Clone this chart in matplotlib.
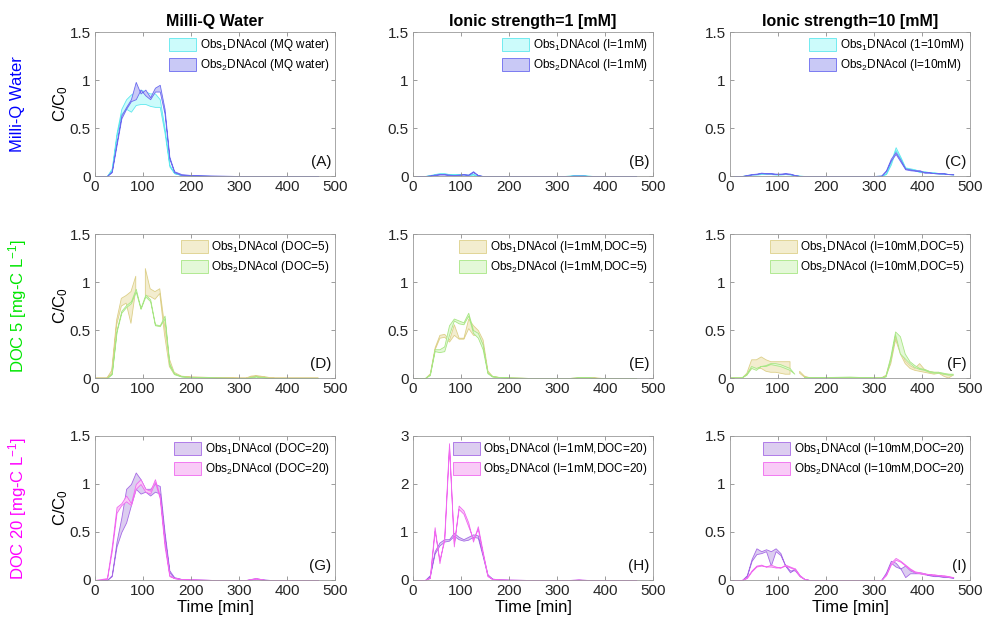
import numpy as np
import matplotlib
matplotlib.use('Agg')
import matplotlib.pyplot as plt

plt.rcParams['font.family'] = ['Liberation Sans', 'DejaVu Sans']
plt.rcParams['mathtext.fontset'] = 'custom'
plt.rcParams['mathtext.rm'] = 'Liberation Sans'
plt.rcParams['mathtext.it'] = 'Liberation Sans:italic'

nan = np.nan

# sampling times [min]
t = [0, 25, 35, 45, 55, 65, 75, 85, 95, 105, 115, 125, 135, 145, 155, 165, 180, 200,
     250, 300, 315, 325, 335, 345, 355, 365, 375, 385, 395, 405, 415, 425, 435, 445, 455, 465]

# (A) Milli-Q water
A1_hi = [0, 0, 0.08, 0.45, 0.70, 0.80, 0.85, 0.88, 0.90, 0.88, 0.86, 0.86, 0.80, 0.50, 0.12, 0.03, 0.01, 0.005,
         0, 0, 0, 0, 0, 0, 0, 0, 0, 0, 0, 0, 0, 0, 0, 0, 0, 0]
A1_lo = [0, 0, 0.06, 0.42, 0.65, 0.70, 0.67, 0.74, 0.75, 0.75, 0.73, 0.72, 0.72, 0.45, 0.10, 0.03, 0.01, 0.005,
         0, 0, 0, 0, 0, 0, 0, 0, 0, 0, 0, 0, 0, 0, 0, 0, 0, 0]
A2_hi = [0, 0, 0.05, 0.35, 0.63, 0.72, 0.80, 0.98, 0.86, 0.90, 0.82, 0.92, 0.95, 0.70, 0.20, 0.05, 0.02, 0.01,
         0.005, 0, 0, 0, 0, 0, 0, 0, 0, 0, 0, 0, 0, 0, 0, 0, 0, 0]
A2_lo = [0, 0, 0.04, 0.32, 0.60, 0.70, 0.78, 0.80, 0.90, 0.84, 0.80, 0.88, 0.88, 0.65, 0.18, 0.04, 0.01, 0.005,
         0, 0, 0, 0, 0, 0, 0, 0, 0, 0, 0, 0, 0, 0, 0, 0, 0, 0]

# (B) I = 1 mM
B1_hi = [0, 0, 0.01, 0.02, 0.03, 0.03, 0.02, 0.02, 0.02, 0.02, 0.015, 0.02, 0.005, 0, 0, 0, 0, 0,
         0, 0, 0, 0.005, 0.01, 0.01, 0.01, 0.005, 0, 0, 0, 0, 0, 0, 0, 0, 0, 0]
B1_lo = [0, 0, 0.005, 0.015, 0.02, 0.02, 0.015, 0.015, 0.015, 0.015, 0.01, 0.015, 0.005, 0, 0, 0, 0, 0,
         0, 0, 0, 0, 0.005, 0.005, 0.005, 0, 0, 0, 0, 0, 0, 0, 0, 0, 0, 0]
B2_hi = [0, 0, 0.005, 0.015, 0.02, 0.02, 0.015, 0.01, 0.015, 0.02, 0.015, 0.05, 0.01, 0, 0, 0, 0, 0,
         0, 0, 0, 0, 0.005, 0.005, 0.005, 0, 0, 0, 0, 0, 0, 0, 0, 0, 0, 0]
B2_lo = [0, 0, 0.003, 0.01, 0.015, 0.015, 0.01, 0.008, 0.01, 0.015, 0.01, 0.04, 0.008, 0, 0, 0, 0, 0,
         0, 0, 0, 0, 0, 0, 0, 0, 0, 0, 0, 0, 0, 0, 0, 0, 0, 0]

# (C) I = 10 mM
C1_hi = [0, 0, 0.01, 0.02, 0.02, 0.03, 0.03, 0.03, 0.02, 0.02, 0.02, 0.02, 0.01, 0.005, 0, 0, 0, 0,
         0, 0, 0.005, 0.03, 0.15, 0.30, 0.20, 0.09, 0.08, 0.07, 0.05, 0.05, 0.04, 0.04, 0.03, 0.03, 0.02, 0.02]
C1_lo = [0, 0, 0.005, 0.015, 0.015, 0.02, 0.02, 0.02, 0.015, 0.015, 0.02, 0.015, 0.01, 0, 0, 0, 0, 0,
         0, 0, 0, 0.02, 0.12, 0.27, 0.18, 0.08, 0.07, 0.06, 0.04, 0.04, 0.035, 0.03, 0.025, 0.02, 0.02, 0.015]
C2_hi = [0, 0, 0.01, 0.02, 0.025, 0.035, 0.03, 0.03, 0.025, 0.025, 0.03, 0.025, 0.01, 0, 0, 0, 0, 0,
         0, 0, 0.005, 0.06, 0.18, 0.25, 0.17, 0.08, 0.07, 0.06, 0.06, 0.04, 0.04, 0.03, 0.03, 0.03, 0.02, 0.02]
C2_lo = [0, 0, 0.005, 0.015, 0.02, 0.03, 0.025, 0.025, 0.02, 0.02, 0.025, 0.02, 0.008, 0, 0, 0, 0, 0,
         0, 0, 0, 0.05, 0.16, 0.23, 0.15, 0.07, 0.06, 0.055, 0.05, 0.035, 0.035, 0.03, 0.025, 0.025, 0.02, 0.015]

# (D) DOC = 5
D1_hi = [0, 0, 0.08, 0.60, 0.83, 0.86, 0.90, 1.06, nan, 1.14, 0.93, 0.90, 0.93, 0.55, 0.20, 0.06, 0.02, 0.01,
         0.005, 0, 0, 0.02, 0.025, 0.02, 0.01, 0.005, 0, 0, 0, 0, 0, 0, 0, 0, 0, 0]
D1_lo = [0, 0, 0.05, 0.55, 0.75, 0.78, 0.57, 0.92, nan, 0.86, 0.85, 0.82, 0.88, 0.45, 0.12, 0.04, 0.015, 0.01,
         0.005, 0, 0, 0.01, 0.02, 0.015, 0.01, 0.005, 0, 0, 0, 0, 0, 0, 0, 0, 0, 0]
D2_hi = [0, 0, 0.05, 0.50, 0.70, 0.76, 0.80, 0.93, 0.73, 0.87, 0.82, 0.56, 0.55, 0.65, 0.15, 0.05, 0.02, 0.01,
         0.005, 0, 0, 0.01, 0.02, 0.01, 0.005, 0, 0, 0, 0, 0, 0, 0, 0, 0, 0, 0]
D2_lo = [0, 0, 0.04, 0.48, 0.68, 0.74, 0.78, 0.90, 0.72, 0.85, 0.80, 0.55, 0.54, 0.62, 0.13, 0.04, 0.015, 0.01,
         0.005, 0, 0, 0.005, 0.015, 0.01, 0.005, 0, 0, 0, 0, 0, 0, 0, 0, 0, 0, 0]

# (E) I = 1 mM, DOC = 5
E1_hi = [0, 0, 0.05, 0.32, 0.45, 0.46, 0.40, 0.56, 0.42, 0.42, 0.62, 0.55, 0.50, 0.40, 0.08, 0.02, 0.01, 0.005,
         0, 0, 0, 0, 0.005, 0.01, 0.01, 0.01, 0.01, 0.005, 0, 0, 0, 0, 0, 0, 0, 0]
E1_lo = [0, 0, 0.04, 0.30, 0.42, 0.43, 0.38, 0.45, 0.41, 0.41, 0.52, 0.45, 0.45, 0.35, 0.06, 0.02, 0.01, 0.005,
         0, 0, 0, 0, 0, 0.005, 0.005, 0.005, 0.005, 0, 0, 0, 0, 0, 0, 0, 0, 0]
E2_hi = [0, 0, 0.04, 0.30, 0.30, 0.33, 0.55, 0.62, 0.60, 0.58, 0.68, 0.50, 0.47, 0.35, 0.06, 0.02, 0.01, 0.005,
         0, 0, 0, 0, 0.005, 0.01, 0.01, 0.01, 0.005, 0, 0, 0, 0, 0, 0, 0, 0, 0]
E2_lo = [0, 0, 0.03, 0.28, 0.27, 0.28, 0.45, 0.60, 0.57, 0.56, 0.65, 0.47, 0.42, 0.30, 0.05, 0.015, 0.01, 0.005,
         0, 0, 0, 0, 0, 0.005, 0.005, 0.005, 0, 0, 0, 0, 0, 0, 0, 0, 0, 0]

# (F) I = 10 mM, DOC = 5
F1_hi = [0, 0, 0.05, 0.19, 0.19, 0.22, 0.19, 0.17, 0.17, 0.17, 0.17, 0.17, nan, 0.07, 0.02, 0.005, 0, 0,
         0, 0, 0, 0.03, 0.20, 0.43, 0.30, 0.18, 0.13, 0.10, 0.15, 0.09, 0.07, 0.06, 0.06, 0.04, 0.04, 0.03]
F1_lo = [0, 0, 0.03, 0.10, 0.10, 0.10, 0.07, 0.06, 0.06, 0.05, 0.04, 0.04, nan, 0.05, 0.01, 0, 0, 0,
         0, 0, 0, 0.02, 0.15, 0.40, 0.25, 0.15, 0.10, 0.08, 0.07, 0.06, 0.05, 0.04, 0.05, 0.02, 0.0, 0.03]
F2_hi = [0, 0, 0.04, 0.12, 0.10, 0.12, 0.13, 0.15, 0.15, 0.14, 0.12, 0.10, 0.04, nan, 0.005, 0.005, 0.005, 0.005,
         0.01, 0, 0, 0.02, 0.22, 0.48, 0.43, 0.25, 0.17, 0.13, 0.10, 0.09, 0.07, 0.06, 0.06, 0.05, 0.04, 0.04]
F2_lo = [0, 0, 0.03, 0.10, 0.08, 0.12, 0.12, 0.14, 0.13, 0.12, 0.10, 0.08, 0.04, nan, 0, 0, 0, 0,
         0.005, 0, 0, 0.01, 0.18, 0.45, 0.25, 0.20, 0.15, 0.11, 0.09, 0.08, 0.06, 0.05, 0.05, 0.04, 0.03, 0.03]

# (G) DOC = 20
G1_hi = [0, 0, 0.05, 0.40, 0.65, 0.95, 1.00, 1.12, 1.05, 0.95, 0.95, 1.00, 0.98, 0.50, 0.10, 0.03, 0.01, 0.005,
         0, 0, 0, 0.01, 0.02, 0.01, 0.005, 0, 0, 0, 0, 0, 0, 0, 0, 0, 0, 0]
G1_lo = [0, 0, 0.04, 0.35, 0.50, 0.60, 0.78, 0.95, 0.90, 0.92, 0.88, 0.92, 0.90, 0.45, 0.08, 0.02, 0.01, 0.005,
         0, 0, 0, 0.005, 0.015, 0.005, 0, 0, 0, 0, 0, 0, 0, 0, 0, 0, 0, 0]
G2_hi = [0, 0.02, 0.35, 0.76, 0.80, 0.88, 0.80, 1.00, 1.05, 0.95, 0.93, 1.05, 0.88, 0.40, 0.05, 0.02, 0.01, 0.005,
         0, 0, 0, 0.01, 0.02, 0.01, 0, 0, 0, 0, 0, 0, 0, 0, 0, 0, 0, 0]
G2_lo = [0, 0.01, 0.30, 0.70, 0.78, 0.82, 0.78, 0.95, 1.00, 0.92, 0.90, 1.02, 0.85, 0.35, 0.04, 0.02, 0.01, 0.005,
         0, 0, 0, 0.005, 0.015, 0.005, 0, 0, 0, 0, 0, 0, 0, 0, 0, 0, 0, 0]

# (H) I = 1 mM, DOC = 20
H1_hi = [0, 0, 0.10, 0.60, 0.78, 0.85, 0.85, 0.98, 0.90, 0.85, 0.90, 0.95, 0.93, 0.55, 0.12, 0.03, 0.01, 0.005,
         0, 0, 0, 0, 0.005, 0.01, 0.005, 0, 0, 0, 0, 0, 0, 0, 0, 0, 0, 0]
H1_lo = [0, 0, 0.08, 0.55, 0.72, 0.80, 0.82, 0.92, 0.85, 0.82, 0.84, 0.90, 0.88, 0.50, 0.10, 0.02, 0.01, 0.005,
         0, 0, 0, 0, 0, 0.005, 0, 0, 0, 0, 0, 0, 0, 0, 0, 0, 0, 0]
H2_hi = [0, 0, 0.05, 1.10, 0.35, 0.90, 2.85, 0.70, 1.55, 1.45, 1.20, 0.80, 1.12, 0.60, 0.10, 0.02, 0.01, 0.005,
         0, 0, 0, 0, 0.005, 0.01, 0.005, 0, 0, 0, 0, 0, 0, 0, 0, 0, 0, 0]
H2_lo = [0, 0, 0.04, 1.02, 0.42, 0.82, 2.78, 0.76, 1.48, 1.38, 1.12, 0.86, 1.06, 0.55, 0.08, 0.02, 0.01, 0.005,
         0, 0, 0, 0, 0, 0.005, 0, 0, 0, 0, 0, 0, 0, 0, 0, 0, 0, 0]

# (I) I = 10 mM, DOC = 20
I1_hi = [0, 0, 0.05, 0.22, 0.33, 0.30, 0.32, 0.30, 0.33, 0.28, 0.15, 0.08, 0.12, 0.05, 0.01, 0, 0, 0,
         0, 0, 0, 0.08, 0.20, 0.18, 0.12, 0.15, 0.10, 0.08, 0.08, 0.07, 0.05, 0.05, 0.04, 0.04, 0.03, 0.03]
I1_lo = [0, 0, 0.04, 0.20, 0.27, 0.28, 0.30, 0.15, 0.30, 0.26, 0.15, 0.10, 0.10, 0.04, 0.01, 0, 0, 0,
         0, 0, 0, 0.06, 0.18, 0.14, 0.12, 0.03, 0.07, 0.07, 0.07, 0.06, 0.05, 0.04, 0.04, 0.03, 0.03, 0.02]
I2_hi = [0, 0, 0.03, 0.10, 0.15, 0.16, 0.14, 0.14, 0.13, 0.13, 0.16, 0.14, 0.12, 0.05, 0.01, 0, 0, 0,
         0, 0, 0, 0.06, 0.18, 0.23, 0.20, 0.16, 0.12, 0.09, 0.08, 0.07, 0.06, 0.06, 0.05, 0.05, 0.04, 0.03]
I2_lo = [0, 0, 0.02, 0.09, 0.14, 0.15, 0.14, 0.16, 0.14, 0.13, 0.15, 0.13, 0.11, 0.04, 0.01, 0, 0, 0,
         0, 0, 0, 0.05, 0.16, 0.21, 0.19, 0.15, 0.11, 0.08, 0.07, 0.06, 0.06, 0.05, 0.05, 0.04, 0.035, 0.03]

col_titles = ['Milli-Q Water', 'Ionic strength=1 [mM]', 'Ionic strength=10 [mM]']
row_titles = ['Milli-Q Water', 'DOC 5 [mg-C L$^{\\mathrm{-1}}$]', 'DOC 20 [mg-C L$^{\\mathrm{-1}}$]']
row_title_colors = ['#0000ff', '#00e600', '#ff00ff']
panel_tags = ['(A)', '(B)', '(C)', '(D)', '(E)', '(F)', '(G)', '(H)', '(I)']
leg_conds = ['MQ water', 'I=1mM', '1=10mM', 'DOC=5', 'I=1mM,DOC=5', 'I=10mM,DOC=5',
             'DOC=20', 'I=1mM,DOC=20', 'I=10mM,DOC=20']
leg_conds2 = ['MQ water', 'I=1mM', 'I=10mM', 'DOC=5', 'I=1mM,DOC=5', 'I=10mM,DOC=5',
              'DOC=20', 'I=1mM,DOC=20', 'I=10mM,DOC=20']

bands = [(A1_lo, A1_hi, A2_lo, A2_hi), (B1_lo, B1_hi, B2_lo, B2_hi), (C1_lo, C1_hi, C2_lo, C2_hi),
         (D1_lo, D1_hi, D2_lo, D2_hi), (E1_lo, E1_hi, E2_lo, E2_hi), (F1_lo, F1_hi, F2_lo, F2_hi),
         (G1_lo, G1_hi, G2_lo, G2_hi), (H1_lo, H1_hi, H2_lo, H2_hi), (I1_lo, I1_hi, I2_lo, I2_hi)]

# (face, edge) for obs1 / obs2 in each row
row_colors = [
    (('#ccfbfb', '#5ee8ee'), ('#c9c9f6', '#6a6af0')),
    (('#f3edcf', '#ddd08a'), ('#e4f8d8', '#a8e684')),
    (('#dccdf0', '#a66ae6'), ('#f9cbf7', '#f06af0')),
]

fig = plt.figure(figsize=(9.86, 6.18), dpi=100)
lefts = [0.0963, 0.4189, 0.7404]
bottoms = [0.7152, 0.3883, 0.0615]
w, h = 0.2434, 0.233

tt = np.array(t, dtype=float)
for k in range(9):
    r, c = divmod(k, 3)
    ax = fig.add_axes([lefts[c], bottoms[r], w, h])
    lo1, hi1, lo2, hi2 = [np.array(v, dtype=float) for v in bands[k]]
    (f1, e1), (f2, e2) = row_colors[r]
    p1 = ax.fill_between(tt, lo1, hi1, facecolor=f1, edgecolor=e1, linewidth=0.6,
                         label='Obs$_{\\mathrm{1}}$DNAcol (' + leg_conds[k] + ')')
    p2 = ax.fill_between(tt, lo2, hi2, facecolor=f2, edgecolor=e2, linewidth=0.6,
                         label='Obs$_{\\mathrm{2}}$DNAcol (' + leg_conds2[k] + ')')

    ax.set_xlim(0, 500)
    ax.set_xticks([0, 100, 200, 300, 400, 500])
    if k == 7:
        ax.set_ylim(0, 3)
        ax.set_yticks([0, 1, 2, 3])
        ax.set_yticklabels(['0', '1', '2', '3'])
    else:
        ax.set_ylim(0, 1.5)
        ax.set_yticks([0, 0.5, 1, 1.5])
        ax.set_yticklabels(['0', '0.5', '1', '1.5'])

    ax.tick_params(direction='in', top=True, right=True, length=3, width=0.6,
                   color='#8c8c8c', labelsize=11, labelcolor='#262626', pad=3)
    for sp in ax.spines.values():
        sp.set_color('#9a9a9a')
        sp.set_linewidth(0.6)

    ax.legend(handles=[p1, p2], loc='upper right', frameon=False, fontsize=8.5,
              handlelength=2.3, handleheight=1.3, labelspacing=0.35,
              handletextpad=0.3, borderaxespad=0.15, borderpad=0.3)
    ax.text(0.985, 0.1, panel_tags[k], transform=ax.transAxes, ha='right',
            va='center', fontsize=11, color='#111111')

    if r == 0:
        ax.set_title(col_titles[c], fontsize=11.5, fontweight='bold', pad=4)
    if r == 2:
        ax.set_xlabel('Time [min]', fontsize=12, labelpad=1)
    if c == 0:
        ax.set_ylabel('C/C$_{\\mathrm{0}}$', fontsize=12, labelpad=0)
        fig.text(0.018, bottoms[r] + h / 2, row_titles[r], rotation=90, ha='center',
                 va='center', fontsize=12, color=row_title_colors[r])

fig.savefig('out.png', dpi=100)
